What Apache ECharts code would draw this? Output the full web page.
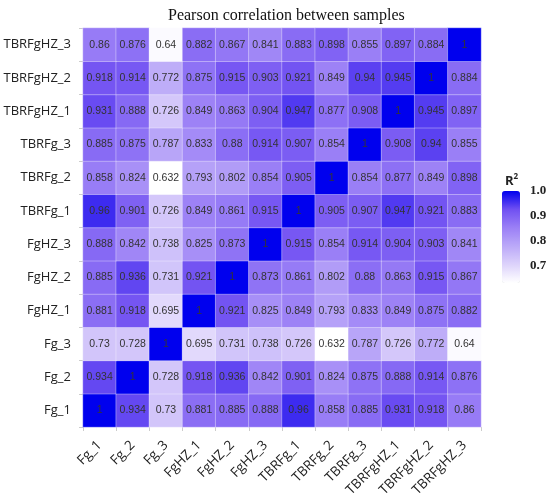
<!DOCTYPE html>
<html>
<head>
<meta charset="utf-8">
<style>
	html,body{margin:0;padding:0;background:#fff}
	#main{width:550px;height:500px}
</style>
<script src="https://cdn.jsdelivr.net/npm/echarts@6/dist/echarts.min.js"></script>
</head>
<body>
<div id="main"></div>
<script>
// samples, bottom-to-top on y, left-to-right on x
var samples = ['Fg_1','Fg_2','Fg_3','FgHZ_1','FgHZ_2','FgHZ_3','TBRFg_1','TBRFg_2','TBRFg_3','TBRFgHZ_1','TBRFgHZ_2','TBRFgHZ_3'];

// one row per sample, same order as samples
var rFg_1      = [1, 0.934, 0.73, 0.881, 0.885, 0.888, 0.96, 0.858, 0.885, 0.931, 0.918, 0.86];
var rFg_2      = [0.934, 1, 0.728, 0.918, 0.936, 0.842, 0.901, 0.824, 0.875, 0.888, 0.914, 0.876];
var rFg_3      = [0.73, 0.728, 1, 0.695, 0.731, 0.738, 0.726, 0.632, 0.787, 0.726, 0.772, 0.64];
var rFgHZ_1    = [0.881, 0.918, 0.695, 1, 0.921, 0.825, 0.849, 0.793, 0.833, 0.849, 0.875, 0.882];
var rFgHZ_2    = [0.885, 0.936, 0.731, 0.921, 1, 0.873, 0.861, 0.802, 0.88, 0.863, 0.915, 0.867];
var rFgHZ_3    = [0.888, 0.842, 0.738, 0.825, 0.873, 1, 0.915, 0.854, 0.914, 0.904, 0.903, 0.841];
var rTBRFg_1   = [0.96, 0.901, 0.726, 0.849, 0.861, 0.915, 1, 0.905, 0.907, 0.947, 0.921, 0.883];
var rTBRFg_2   = [0.858, 0.824, 0.632, 0.793, 0.802, 0.854, 0.905, 1, 0.854, 0.877, 0.849, 0.898];
var rTBRFg_3   = [0.885, 0.875, 0.787, 0.833, 0.88, 0.914, 0.907, 0.854, 1, 0.908, 0.94, 0.855];
var rTBRFgHZ_1 = [0.931, 0.888, 0.726, 0.849, 0.863, 0.904, 0.947, 0.877, 0.908, 1, 0.945, 0.897];
var rTBRFgHZ_2 = [0.918, 0.914, 0.772, 0.875, 0.915, 0.903, 0.921, 0.849, 0.94, 0.945, 1, 0.884];
var rTBRFgHZ_3 = [0.86, 0.876, 0.64, 0.882, 0.867, 0.841, 0.883, 0.898, 0.855, 0.897, 0.884, 1];

var rows = [rFg_1, rFg_2, rFg_3, rFgHZ_1, rFgHZ_2, rFgHZ_3, rTBRFg_1, rTBRFg_2, rTBRFg_3, rTBRFgHZ_1, rTBRFgHZ_2, rTBRFgHZ_3];
var legendTicks = [0.7, 0.8, 0.9, 1.0];
var rMin = 0.632, rMax = 1;

var cells = [];
rows.forEach(function(row, yi){
	row.forEach(function(v, xi){
		cells.push([xi, yi, v]);
	});
});

var myChart = echarts.init(document.getElementById('main'));
var option = {
	animation: false,
	title: [{
		text: 'Pearson correlation between samples',
		left: 163,
		top: 3,
		textStyle: {fontFamily: 'Liberation Serif', fontWeight: 'normal', fontSize: 16, color: '#111'}
	}, {
		text: '{r|R}{s|2}',
		left: 500,
		top: 168,
		textStyle: {
			rich: {
				r: {fontFamily: 'Open Sans', fontSize: 13, color: '#222'},
				s: {fontFamily: 'Open Sans', fontSize: 8, color: '#222', verticalAlign: 'top', padding: [0,0,8,0]}
			}
		}
	}],
	grid: [
		{left: 83, top: 28, width: 398, height: 399},
		{left: 502, top: 191, width: 18, height: 92}
	],
	xAxis: [{
		type: 'category',
		data: samples,
		gridIndex: 0,
		axisLine: {show: false},
		axisTick: {show: true, length: 4, lineStyle: {color: '#ccc'}},
		axisLabel: {rotate: 45, fontFamily: 'Open Sans', fontSize: 13.5, color: '#222', margin: 16},
		splitArea: {show: false}
	}, {
		type: 'value', gridIndex: 1, show: false, min: 0, max: 1
	}],
	yAxis: [{
		type: 'category',
		data: samples,
		gridIndex: 0,
		axisLine: {show: false},
		axisTick: {show: true, length: 4, lineStyle: {color: '#ccc'}},
		axisLabel: {fontFamily: 'Open Sans', fontSize: 13, color: '#222', margin: 12}
	}, {
		type: 'value',
		gridIndex: 1,
		position: 'right',
		min: rMin,
		max: rMax,
		splitNumber: 4,
		axisLine: {show: false},
		splitLine: {show: false},
		axisTick: {show: true, inside: true, length: 4, lineStyle: {color: '#fff'},
			customValues: legendTicks},
		axisLabel: {
			fontFamily: 'Liberation Serif', fontWeight: 'bold', fontSize: 13, color: '#222', margin: 10,
			customValues: legendTicks,
			formatter: function(v){ return v.toFixed(1); }
		},
		z: 10
	}],
	visualMap: {
		type: 'continuous',
		min: rMin,
		max: rMax,
		seriesIndex: 0,
		calculable: false,
		left: 502,
		top: 191,
		itemWidth: 18,
		itemHeight: 92,
		padding: 0,
		text: null,
		showLabel: false,
		inRange: {color: ['#ffffff', '#ddd3fb', '#bba9f8', '#9b80f6', '#7050f2', '#0000ee']}
	},
	series: [{
		type: 'heatmap',
		data: cells,
		xAxisIndex: 0,
		yAxisIndex: 0,
		label: {
			show: true,
			fontFamily: 'Liberation Sans',
			fontSize: 10.5,
			color: '#333',
			formatter: function(p){ return String(p.value[2]); }
		},
		itemStyle: {borderColor: 'rgba(255,255,255,0.35)', borderWidth: 1}
	}]
};
myChart.setOption(option);
</script>
</body>
</html>
